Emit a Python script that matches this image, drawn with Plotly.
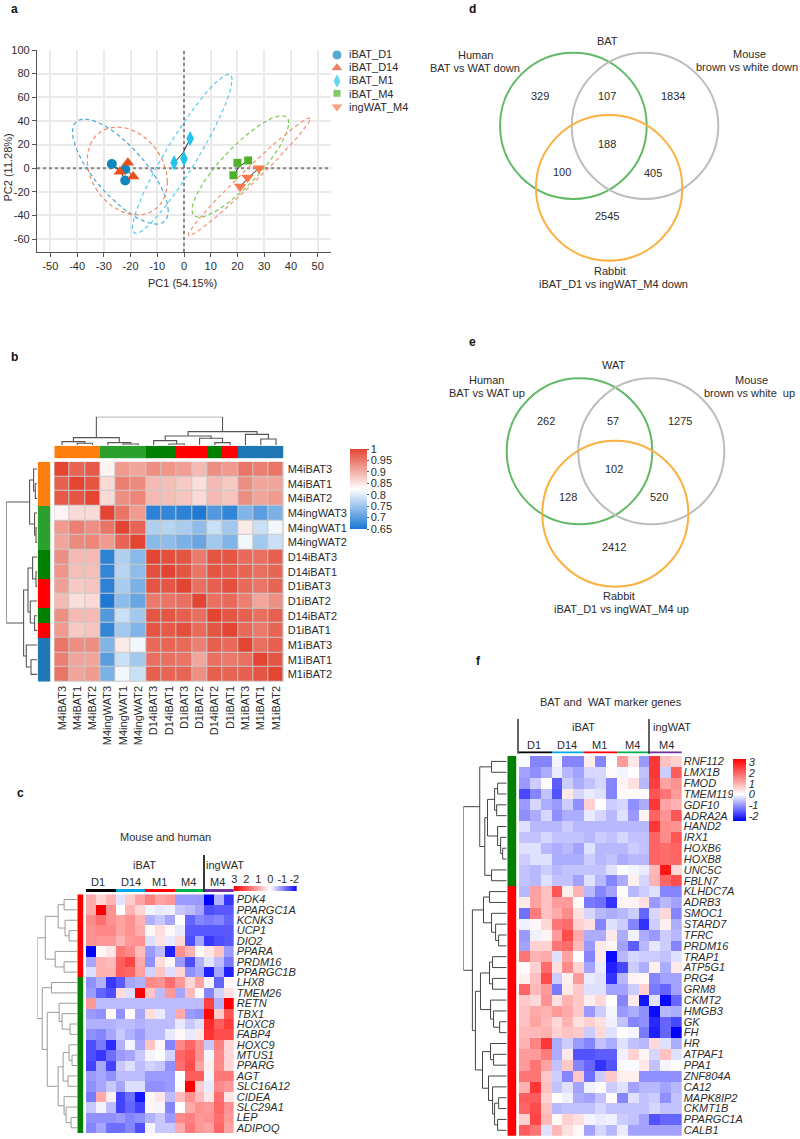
import numpy as np
import plotly.graph_objects as go

W, H = 800, 1139
FONT = "Liberation Sans"
INK = "#2b2b2b"

# ---------- panel a ----------
pca_groups = ["iBAT_D1", "iBAT_D14", "iBAT_M1", "iBAT_M4", "ingWAT_M4"]
pca_symbols = ["circle", "triangle-up", "diamond-tall", "square", "triangle-down"]
pca_sizes = [10, 11, 11, 8, 11]
pca_colors = ["#0f87c0", "#e8501c", "#22c5e8", "#4fb02c", "#fa7a50"]
pca_ell_colors = ["#4aa8d8", "#f08a60", "#55cdea", "#78c84e", "#fa9070"]
pc1 = [[-27, -22, -22], [-21, -24, -19], [2.3, -3.7, 0], [20, 24, 18.5], [28, 23.8, 21]]
pc2 = [[3.5, -1, -10.5], [4.5, -3, -7], [25, 4.5, 8], [4.5, 6.5, -6], [0, -8, -15.5]]
ell_cx = [-23.8, -21.2, -0.65, 21.1, 24.4]
ell_cy = [-2.9, -2.4, 12.1, 1.4, -7.4]
ell_ax = [17.9, 15.0, 18.65, 18.1, 22.8]
ell_ay = [44.5, 37.2, 67.3, 43.0, 49.8]
ell_corr = [-0.75, -0.25, 0.93, 0.856, 0.985]
pc1_ticks = [-50, -40, -30, -20, -10, 0, 10, 20, 30, 40, 50]
pc2_ticks = [-60, -40, -20, 0, 20, 40, 60, 80, 100]

# ---------- panel b ----------
samples = ["M4iBAT3", "M4iBAT1", "M4iBAT2", "M4ingWAT3", "M4ingWAT1", "M4ingWAT2", "D14iBAT3", "D14iBAT1",
           "D1iBAT3", "D1iBAT2", "D14iBAT2", "D1iBAT1", "M1iBAT3", "M1iBAT1", "M1iBAT2"]
corr_matrix = [
    [1.0, .97, .98, .835, .92, .91, .93, .925, .915, .89, .93, .92, .955, .945, .955],
    [.975, 1, .985, .86, .945, .935, .89, .885, .875, .855, .89, .875, .93, .91, .91],
    [.98, .985, 1, .86, .93, .94, .89, .885, .88, .86, .89, .88, .93, .91, .92],
    [.835, .86, .86, 1, .955, .92, .665, .67, .665, .655, .695, .67, .73, .70, .725],
    [.92, .945, .93, .955, 1, .97, .765, .77, .76, .74, .785, .755, .845, .785, .815],
    [.91, .935, .94, .92, .97, 1, .735, .74, .725, .71, .755, .73, .815, .755, .785],
    [.93, .89, .89, .665, .765, .735, 1, .99, .985, .95, .985, .985, .965, .96, .975],
    [.925, .885, .885, .67, .77, .74, .99, 1, .985, .955, .985, .98, .97, .96, .97],
    [.915, .875, .88, .665, .76, .725, .985, .985, 1, .96, .975, .99, .965, .955, .97],
    [.89, .855, .86, .655, .74, .71, .95, .955, .96, 1, .96, .965, .945, .91, .93],
    [.93, .89, .89, .695, .785, .755, .985, .985, .975, .96, 1, .985, .975, .96, .975],
    [.92, .875, .88, .67, .755, .73, .985, .98, .99, .965, .985, 1, .965, .95, .97],
    [.955, .93, .93, .73, .845, .815, .965, .97, .965, .945, .975, .965, 1, .96, .975],
    [.945, .91, .91, .70, .785, .755, .96, .96, .955, .91, .96, .95, .96, 1, .985],
    [.955, .91, .92, .725, .815, .785, .975, .97, .97, .93, .975, .97, .975, .985, 1],
]
sample_groups = [0, 0, 0, 1, 1, 1, 2, 2, 3, 3, 2, 3, 4, 4, 4]
sample_colors = ["#ff7f0e", "#2ca02c", "#008000", "#ff0000", "#1f77b4"]
sample_tree = (28.7, (7.7, (3.7, 0, (2.0, 1, 2)), (2.7, 3, (1.3, 4, 5))),
               (13.7, (9.3, (4.7, 6, (1.3, 7, 8)), (7.0, 9, (2.7, 10, 11))), (11.0, 12, (6.3, 13, 14))))

# ---------- panel c ----------
genes_c = ["PDK4", "PPARGC1A", "KCNK3", "UCP1", "DIO2", "PPARA", "PRDM16", "PPARGC1B", "LHX8", "TMEM26", "RETN",
           "TBX1", "HOXC8", "FABP4", "HOXC9", "MTUS1", "PPARG", "AGT", "SLC16A12", "CIDEA", "SLC29A1", "LEP", "ADIPOQ"]
expr_c = [
    [1.0, .5, .9, -.25, .6, 1.1, 1.5, 1.1, 1.2, -.9, -.9, -.9, -2.3, -.7, -1.8],
    [1.0, 3, 1.3, 0, .9, .5, -.1, -.2, -.15, -.5, -.6, -.8, -1.6, -1.5, -1.5],
    [1.4, 1.7, 1.3, 1.1, 1.3, .9, -.7, -.5, -.8, 0, -1.4, -1.1, -1.2, -1.1, -1.4],
    [1.3, 1.4, 1.4, 1.1, 1.3, 1.0, .1, .4, .1, -.2, -1.5, -1.5, -1.5, -1.5, -1.5],
    [1.3, 1.2, 1.2, .9, 1.2, 1.3, -.3, .35, -.2, .45, -1.6, -.8, -1.8, -1.6, -1.5],
    [-2.3, .1, .3, 1.6, 1.4, .8, -.9, -.6, -2.0, 1.3, .9, .05, .3, .7, -.9],
    [-.8, .9, .8, 1.9, 2.2, 1.0, -1, .4, .1, -.9, -1.6, -.7, -.25, -.6, -1.2],
    [-.3, .9, .9, 1.9, 1.8, 1.1, -.4, .7, -.3, .5, -1, -.8, -2, -.8, -2],
    [-1, -.7, -1.8, -1.5, -.8, -.7, 1.4, 1.3, 1.7, 1.2, .5, 1.1, -.1, -1.4, .1],
    [-.9, -1.4, -1.6, .4, -.3, 3, .7, -.6, 1.2, -.8, .8, .05, -1.1, -.4, .35],
    [1.2, -.6, -.6, -.6, -.6, -.6, -.6, -.6, -.6, -.6, -.6, -.6, 2.2, -.7, 3],
    [-.9, -1, .05, -1, .05, -.8, .4, -.2, -.6, 1, -.9, -1, 2.9, .6, 2],
    [-.7, -.7, -.7, -.6, -.6, -.7, -.6, -.6, -.6, -.2, -.5, -.3, 2.5, 1.9, 2.3],
    [-1, -1.1, -.8, -.5, -.7, -.9, -.6, -.6, -.2, .1, -.2, .3, 2.4, 2.1, 2.1],
    [-1.6, -1.2, -1.9, -.7, -.1, -.8, .7, .1, -1.1, 1.4, 1.8, 1.3, -.5, 1.5, .5],
    [-1.6, -1.8, -1.3, -.9, -.8, -.5, -.1, 0, -.4, 1.8, 2, 1.3, -.1, 1.4, .5],
    [-1.7, -.8, -1.7, -.5, -.3, -.6, -.4, -.5, -1, 1.7, 2.1, 1.1, .2, 1.4, .5],
    [-.9, -.8, -1, -.6, -.6, -.6, -.9, -.9, -.9, 0, 1.9, 1.9, -.1, 1.6, 1.6],
    [-1, -.8, -.5, -.8, -.3, -.3, -1, -1, -.9, .05, 3, .6, -.2, 1.4, 1.2],
    [-1.2, 1, .2, -1.7, -1.3, -2.1, .1, .3, -.6, .8, 1.3, .8, .3, 1.7, .3],
    [-.5, -.1, -.6, -1.7, -1.4, -1.7, .1, -.1, -1.1, 0, 1, 1.3, 1.2, 1.8, 1.3],
    [-1, -1, -1, -.9, -1.1, -1, -.7, -.5, -.9, 1.4, 1.5, 1.2, 1.3, 1.7, 1.2],
    [-1.1, -.8, -1.3, -1.3, -1.1, -1.6, -.1, -.5, -.5, 1, 1.6, 1.2, 1.1, 1.8, 1.1],
]
row_groups_c = [0] * 8 + [1] * 15
tree_c = (40, (32, (19, (13, 0, 1), (12, 2, (8, 3, 4))), (22, 5, (13, 6, 7))),
          (35, (25.7, 8, 9),
           (30, (18, 10, (15, 11, (7, 12, 13))),
            (19, (14, (8, 14, (5, 15, 16)), (9, 17, 18)), (13, 19, (11, 20, (6, 21, 22)))))))

# ---------- panel f ----------
genes_f = ["RNF112", "LMX1B", "FMOD", "TMEM119", "GDF10", "ADRA2A", "HAND2", "IRX1", "HOXB6", "HOXB8", "UNC5C", "FBLN7",
           "KLHDC7A", "ADRB3", "SMOC1", "STARD7", "TFRC", "PRDM16", "TRAP1", "ATP5G1", "PRG4", "GRM8", "CKMT2", "HMGB3",
           "GK", "FH", "HR", "ATPAF1", "PPA1", "ZNF804A", "CA12", "MAPK8IP2", "CKMT1B", "PPARGC1A", "CALB1"]
expr_f = [
    [-.05, -1.2, -1.2, -.1, -1.2, -1.2, .25, -1.2, 0, 1.3, .3, -1, 2.6, .8, .6],
    [-.9, -1.1, -.8, -.2, -.7, -.9, -.4, -.4, .05, -.1, 0, -.6, 2.6, -.5, 2.1],
    [-1, -.5, .05, -1.6, -.5, -.8, -.6, -.4, -1.2, .15, .4, -.7, 2.5, 1.2, 1.4],
    [-1.8, -1.2, -.6, -1.7, .3, -.4, -.2, -.3, -1.2, .05, .05, .05, 2.2, 1.8, 1.3],
    [-1, -.4, -.8, -1, -.5, -1.1, .6, 0, -.5, -.4, -1.1, -.8, 2.6, 1.2, 1],
    [-1.1, -.8, -.4, -1.1, -.8, -.8, -.2, -.4, -.7, -.3, -1, .15, 2, 1.4, 2.2],
    [-.3, -.7, -.7, -.7, -.5, -.7, -.7, -.7, -.7, -.7, -.7, -.7, 2.6, 1.5, 1.4],
    [-.6, -.6, -.4, -.6, -.6, -.6, -.7, -.5, -.6, -.4, -.6, -.6, 2, 1.5, 2.2],
    [-.3, -.3, -.7, -.8, -.7, -.9, -.3, -.7, -.7, -.7, -.5, -.6, 2, 1.9, 2],
    [-.5, -.3, -.3, -.8, -.8, -.8, -.5, -.7, -.6, -.8, -.7, -.7, 2, 1.9, 2],
    [-.6, -.7, -.5, -.7, -.6, -.6, -.6, -.6, -.3, 0, -.1, -.2, .9, 3, .5],
    [-.6, -.7, -.3, -.6, -.6, -.9, -.3, -.7, -1.2, -.8, .2, -.4, 1, 2, 2.3],
    [-.7, 1.2, .8, 2.2, .2, 1, -.7, -1.2, -.9, 0, -.7, -.5, -.3, -1.2, -1.2],
    [.3, 1.2, .8, 1.3, 1.3, .05, -1.3, -1.4, -2, .15, .15, .4, -1, -.7, -.9],
    [-1.4, 1.7, .8, 1.1, 1.5, .4, -.4, -.7, -.8, -.7, -.5, -1.5, -.4, .5, -1.2],
    [-.15, .1, .5, 1.8, 1.9, .6, .4, -1.2, -.3, -.5, -1.2, -2, -.5, .2, -.8],
    [-1, -.15, .15, 1.3, 2.3, 1.1, -.8, -.8, .3, -.8, -.15, -.8, -1, -.5, -.7],
    [-.9, .6, .6, 1.8, 1.9, .9, -1, .3, .1, -.9, -1.6, -.7, -.25, -.5, -1.2],
    [1.8, 1, 1.1, -.3, 1.2, .02, -1.2, .3, -2.4, -.7, -.4, -.5, -.5, -.6, -.3],
    [.05, .6, 1.9, .4, 1.5, .6, -.9, -.2, -2.2, -1.8, -.5, -.8, .2, -.8, .3],
    [.2, .8, 2.3, -.5, .2, 1.3, -.2, -.3, -2, -.7, .15, .1, -1.2, -.9, -.9],
    [2, .9, 1.3, -1.3, .3, .7, -.3, -.3, -.9, -.9, -.5, .6, -1.3, -1.5, -.9],
    [.7, .5, 1.4, .4, 1, .7, .25, .5, 0, -1.2, .3, -2.3, -.3, -2.4, -1.5],
    [.8, 1.1, 1, 1.3, 1.1, .7, -1, -.5, -.1, -1, -.8, -1.1, -2.4, -.7, -.8],
    [.8, 1.2, .9, .5, 1, .4, .6, .4, -.15, -.6, -1.2, -1.1, -2.1, -1.5, -1.8],
    [.9, .9, 1, .6, .8, .7, -.5, .5, -.3, 0, -.1, -1.3, -2.2, -1.5, -2.5],
    [1, 1.6, 2.6, -.8, -.5, -1, -1.2, -.6, -.8, -.3, -.6, -.7, .5, -.3, -.8],
    [1.3, 1.3, 1.7, -.8, .3, -1.7, -1.7, -1.6, -1.6, -.15, .6, .15, -.4, .8, -.3],
    [1.3, 1.8, 1.2, -.6, .7, -1.2, -1.5, -2, -1.7, -.05, -.05, .3, -.6, -.1, -.02],
    [1.8, 1.8, .7, -.5, -1.2, .7, -1.4, -.5, .7, .2, .2, -1.1, -1.1, -1.1, -1.1],
    [1, 2.6, .8, -.6, -.3, -.9, -.15, .05, -.5, -.3, -.9, -.7, -.7, -.9, -.7],
    [2.1, 2.1, .6, 0, -.15, -.8, -.9, -.6, .05, -1.2, -.3, -.6, -.5, -1.1, -.6],
    [2, 2.3, .8, -.7, -.6, -.6, -.6, -.4, -.6, -.6, -.6, -.6, -.4, -.6, -.6],
    [.6, 2.4, .9, .05, .6, .4, -.1, -.2, -.15, -.5, -.6, -.9, -1.7, -1.5, -1.5],
    [2.1, 1.8, -.3, .9, .4, .1, -.9, -.4, -.7, -.2, -.9, -.9, -.9, -.9, -.9],
]
row_groups_f = [1] * 12 + [0] * 23
tree_f = (43, (26.7, (15, 0, 1),
               (21.7, (19, (12, (9, 2, 3), (10, 4, 5)), (9, 6, (6, 7, (4, 8, 9)))), (15, 10, 11))),
          (34, (23, (17, 12, 13), (15, 14, (11, 15, (8, 16, 17)))),
           (31, (26, (17, (14, 18, 19), (14, 20, 21)), (16, 22, (13, 23, (7, 24, 25)))),
            (24, (16, 26, (13, 27, 28)), (18, 29, (14, 30, (12, (8, 31, 32), (9, 33, 34))))))))
column_groups = [0] * 3 + [1] * 3 + [2] * 3 + [3] * 3 + [4] * 3
column_colors = ["#000000", "#00a8e8", "#ff0000", "#00b050", "#7030a0"]
row_colors = ["#ff0000", "#008000"]
scale_ticks = [3, 2, 1, 0, -1, -2]

# ---------- venn ----------
venn_d = dict(top="BAT", hl="Human", hs="BAT vs WAT down", ml="Mouse", ms="brown vs white down",
              rl="Rabbit", rs="iBAT_D1 vs ingWAT_M4 down", n=["329", "107", "1834", "188", "100", "405", "2545"])
venn_e = dict(top="WAT", hl="Human", hs="BAT vs WAT up", ml="Mouse", ms="brown vs white  up",
              rl="Rabbit", rs="iBAT_D1 vs ingWAT_M4 up", n=["262", "57", "1275", "102", "128", "520", "2412"])

layout = dict(width=W, height=H, autosize=False, margin=dict(l=0, r=0, t=0, b=0, autoexpand=False),
              paper_bgcolor="white", plot_bgcolor="rgba(0,0,0,0)", showlegend=False,
              font=dict(family=FONT, size=11, color=INK), shapes=[])
fig = go.Figure()
axis_n = 0


def make_axes(x0, x1, y0, y1, xopts=None, yopts=None):
    global axis_n
    axis_n += 1
    s = "" if axis_n == 1 else str(axis_n)
    hidden = dict(showgrid=False, zeroline=False, showticklabels=False, ticks="", showline=False, fixedrange=True)
    xa = dict(hidden, domain=[x0 / W, x1 / W], anchor="y" + s)
    ya = dict(hidden, domain=[1 - y1 / H, 1 - y0 / H], anchor="x" + s)
    xa.update(xopts or {})
    ya.update(yopts or {})
    layout["xaxis" + s] = xa
    layout["yaxis" + s] = ya
    return "x" + s, "y" + s


def walk(node, segs):
    if not isinstance(node, tuple):
        return float(node), 0.0
    h, a, b = node
    pa, ha = walk(a, segs)
    pb, hb = walk(b, segs)
    segs.append(((pa, ha), (pa, h), (pb, h), (pb, hb)))
    return (pa + pb) / 2, h


def dendro(tree, n, x0, x1, y0, y1, orient, color, width=1.0):
    segs = []
    walk(tree, segs)
    hmax = tree[0]
    if orient == "top":
        xa, ya = make_axes(x0, x1, y0, y1, dict(range=[-.5, n - .5]), dict(range=[0, hmax]))
    else:
        xa, ya = make_axes(x0, x1, y0, y1, dict(range=[hmax, 0]), dict(range=[n - .5, -.5]))
    xs, ys = [], []
    for seg in segs:
        for p, hh in seg:
            xs.append(p if orient == "top" else hh)
            ys.append(hh if orient == "top" else p)
        xs.append(None)
        ys.append(None)
    fig.add_trace(go.Scatter(x=xs, y=ys, mode="lines", line=dict(color=color, width=width), xaxis=xa, yaxis=ya,
                             cliponaxis=False, hoverinfo="skip"))


def discrete_scale(colors):
    n = len(colors)
    out = []
    for i, c in enumerate(colors):
        out += [[i / n, c], [(i + 1) / n, c]]
    return out


def color_bar(x0, x1, y0, y1, groups, colors, vertical=False):
    z = [[g] for g in groups] if vertical else [list(groups)]
    n = len(groups)
    if vertical:
        xa, ya = make_axes(x0, x1, y0, y1, dict(range=[-.5, .5]), dict(range=[n - .5, -.5]))
    else:
        xa, ya = make_axes(x0, x1, y0, y1, dict(range=[-.5, n - .5]), dict(range=[-.5, .5]))
    fig.add_trace(go.Heatmap(z=z, zmin=-.5, zmax=len(colors) - .5, colorscale=discrete_scale(colors), showscale=False,
                             xaxis=xa, yaxis=ya, hoverinfo="skip"))


# ---------- panel a draw ----------
xa, ya = make_axes(37, 331, 50, 252,
                   dict(range=[-55, 55], tickvals=pc1_ticks, ticktext=[str(v) for v in pc1_ticks],
                        showticklabels=True, ticks="outside",
                        ticklen=4, tickcolor="#555", showline=True, linecolor="#555", linewidth=1.3, showgrid=True,
                        gridcolor="#e9e9e9", gridwidth=2, tickfont=dict(size=11)),
                   dict(range=[-71, 100], tickvals=pc2_ticks, ticktext=[str(v) for v in pc2_ticks],
                        showticklabels=True, ticks="outside",
                        ticklen=4, tickcolor="#555", showline=True, linecolor="#555", linewidth=1.3, showgrid=True,
                        gridcolor="#e9e9e9", gridwidth=2, tickfont=dict(size=11)))
fig.add_trace(go.Scatter(x=[-55, 55], y=[0, 0], mode="lines", line=dict(color="#888", width=2, dash="dot"),
                         xaxis=xa, yaxis=ya, hoverinfo="skip"))
fig.add_trace(go.Scatter(x=[0, 0], y=[-71, 100], mode="lines", line=dict(color="#888", width=2, dash="dot"),
                         xaxis=xa, yaxis=ya, hoverinfo="skip"))
t = np.linspace(0, 2 * np.pi, 120)
for i, c in enumerate(pca_ell_colors):
    phi = np.arccos(ell_corr[i])
    fig.add_trace(go.Scatter(x=ell_cx[i] + ell_ax[i] * np.cos(t), y=ell_cy[i] + ell_ay[i] * np.cos(t - phi),
                             mode="lines", line=dict(color=c, width=1.2, dash="4px,3px"), xaxis=xa, yaxis=ya,
                             hoverinfo="skip"))
for i in range(5):
    mx, my = np.mean(pc1[i]), np.mean(pc2[i])
    sx, sy = [], []
    for px, py in zip(pc1[i], pc2[i]):
        sx += [mx, px, None]
        sy += [my, py, None]
    fig.add_trace(go.Scatter(x=sx, y=sy, mode="lines", line=dict(color="#222", width=1), xaxis=xa, yaxis=ya,
                             hoverinfo="skip"))
for i, g in enumerate(pca_groups):
    fig.add_trace(go.Scatter(x=pc1[i], y=pc2[i], mode="markers", name=g,
                             marker=dict(symbol=pca_symbols[i], size=pca_sizes[i], color=pca_colors[i]),
                             xaxis=xa, yaxis=ya))

# ---------- panel b draw ----------
bx0, bx1, by0, by1 = 54.3, 283.7, 461.7, 681.7
BC = [[0, "#1976d2"], [0.5, "#ffffff"], [1, "#e34532"]]
xa, ya = make_axes(bx0, bx1, by0, by1,
                   dict(range=[-.5, 14.5], type="category", showticklabels=True, tickangle=-90, side="bottom",
                        tickmode="array", tickvals=samples, ticktext=samples,
                        tickfont=dict(size=11), ticklabelstandoff=1),
                   dict(range=[14.5, -.5], type="category", showticklabels=True, side="right",
                        tickmode="array", tickvals=samples, ticktext=samples,
                        tickfont=dict(size=11), ticklabelstandoff=3))
layout["shapes"].append(dict(type="rect", xref=xa + " domain", yref=ya + " domain", x0=0, x1=1, y0=0,
                             y1=1, fillcolor="#c9c9c9", line=dict(width=0), layer="below"))
fig.add_trace(go.Heatmap(z=corr_matrix, x=samples, y=samples, zmin=.65, zmax=1, colorscale=BC, xgap=1, ygap=1,
                         xaxis=xa, yaxis=ya,
                         colorbar=dict(x=350 / W, xanchor="left", xpad=0, ypad=0, y=1 - 449 / H, yanchor="top",
                                       len=79.5, lenmode="pixels", thickness=16.5, thicknessmode="pixels",
                                       outlinewidth=0, ticks="outside", ticklen=2, tickcolor="#555",
                                       tickvals=[1, .95, .9, .85, .8, .75, .7, .65],
                                       ticktext=["1", "0.95", "0.9", "0.85", "0.8", "0.75", "0.7", "0.65"],
                                       tickfont=dict(size=11))))
color_bar(bx0, bx1, 445.7, 458.3, sample_groups, sample_colors)
color_bar(37.7, 50.3, by0, by1, sample_groups, sample_colors, vertical=True)
dendro(sample_tree, 15, bx0, bx1, 416.7, 445.3, "top", "#555", 1.1)
dendro((31, sample_tree[1], sample_tree[2]), 15, 6.3, 37.3, by0, by1, "left", "#555", 1.1)

# ---------- panel c draw ----------
ZC = [[0, "#0000ff"], [2.3 / 5.3, "#ffffff"], [1, "#ff0000"]]
cx0, cx1, cy0, cy1 = 86, 233.7, 894.3, 1133
xa, ya = make_axes(cx0, cx1, cy0, cy1, dict(range=[-.5, 14.5]),
                   dict(range=[22.5, -.5], type="category", showticklabels=True, side="right",
                        tickmode="array", tickvals=genes_c, ticktext=genes_c,
                        tickfont=dict(size=11, style="italic"), ticklabelstandoff=2))
fig.add_trace(go.Heatmap(z=expr_c, y=genes_c, zmin=-2.3, zmax=3, colorscale=ZC, showscale=False, xaxis=xa, yaxis=ya))
color_bar(77.3, 83.7, cy0, cy1, row_groups_c, row_colors, vertical=True)
color_bar(cx0, cx1, 889, 892, column_groups, column_colors)
dendro(tree_c, 23, 37.3, 77, cy0, cy1, "left", "#9a9a9a", 1.0)
ramp_c = list(np.linspace(3.05, -2.2, 64))
xa, ya = make_axes(233.7, 296.7, 886, 891,
                   dict(range=[3.05, -2.2], showticklabels=True, side="top", tickvals=scale_ticks,
                        ticktext=[str(v) for v in scale_ticks], tickfont=dict(size=11), ticklabelstandoff=0),
                   dict(range=[-.5, .5]))
fig.add_trace(go.Heatmap(z=[ramp_c], x=ramp_c, zmin=-2.3, zmax=3, colorscale=ZC, showscale=False, xaxis=xa, yaxis=ya))

# ---------- panel f draw ----------
ZF = [[0, "#0000ff"], [2.5 / 5.8, "#ffffff"], [1, "#ff0000"]]
fx0, fx1, fy0, fy1 = 519, 681.7, 756, 1135.7
xa, ya = make_axes(fx0, fx1, fy0, fy1, dict(range=[-.5, 14.5]),
                   dict(range=[34.5, -.5], type="category", showticklabels=True, side="right",
                        tickmode="array", tickvals=genes_f, ticktext=genes_f,
                        tickfont=dict(size=11, style="italic"), ticklabelstandoff=1))
fig.add_trace(go.Heatmap(z=expr_f, y=genes_f, zmin=-2.5, zmax=3.3, colorscale=ZF, xaxis=xa, yaxis=ya,
                         colorbar=dict(x=732.7 / W, xanchor="left", xpad=0, ypad=0, y=1 - 759.3 / H, yanchor="top",
                                       len=61.7, lenmode="pixels", thickness=12.6, thicknessmode="pixels",
                                       outlinewidth=0, ticks="", tickvals=scale_ticks,
                                       ticktext=[str(v) for v in scale_ticks],
                                       tickfont=dict(size=11, style="italic"))))
color_bar(507.3, 516.7, fy0, fy1, row_groups_f, row_colors, vertical=True)
color_bar(fx0, fx1, 751.3, 753.7, column_groups, column_colors)
dendro(tree_f, 35, 463.3, 506.7, fy0, fy1, "left", "#444", 1.0)

# ---------- page overlay ----------
ox, oy = make_axes(0, W, 0, H, dict(range=[0, W]), dict(range=[H, 0]))
legend_y = [55, 68, 81, 93.3, 106.7]
text_y = [54, 66.7, 80, 94, 107]
fig.add_trace(go.Scatter(x=[337] * 5, y=legend_y, mode="markers",
                         marker=dict(symbol=pca_symbols, size=pca_sizes, color=pca_colors), xaxis=ox, yaxis=oy,
                         hoverinfo="skip"))
ann = []


def text(x, y, s, anchor="center", **kw):
    d = dict(x=x, y=y, xref=ox, yref=oy, text=s, showarrow=False, xanchor=anchor, yanchor="middle",
             font=dict(size=11, color=INK))
    d.update(kw)
    ann.append(d)


for g, yy in zip(pca_groups, text_y):
    text(346.5, yy, g, "left")
text(182.3, 283, "PC1 (54.15%)")
text(7.5, 168, "PC2 (11.28%)", textangle=-90)
text(165.7, 837, "Mouse and human")
text(144, 865, "iBAT")
text(225, 865, "ingWAT")
for lab, xx in zip(["D1", "D14", "M1", "M4", "M4"], [98, 131, 159, 188, 217]):
    text(xx, 882, lab)
text(611, 702, "BAT and  WAT marker genes")
text(583, 726.7, "iBAT")
text(672, 726.7, "ingWAT")
for lab, xx in zip(["D1", "D14", "M1", "M4", "M4"], [534, 566.7, 599, 632.7, 666.7]):
    text(xx, 745, lab)
for lab, xx, yy in [("a", 14, 9), ("b", 14, 357), ("c", 20, 793), ("d", 472, 9), ("e", 472, 342), ("f", 478, 661)]:
    text(xx, yy, "<b>%s</b>" % lab, font=dict(size=12, color="#111"))


def venn(v, pos, circles):
    text(*pos["top"], v["top"])
    text(*pos["hl"], v["hl"])
    text(*pos["hs"], v["hs"])
    text(*pos["ml"], v["ml"])
    text(*pos["ms"], v["ms"])
    text(*pos["rl"], v["rl"])
    text(*pos["rs"], v["rs"])
    for s, p in zip(v["n"], pos["n"]):
        text(*p, s)
    for (a, b, c, d), col in zip(circles, ["#62b966", "#bdbdbd", "#fbb03f"]):
        layout["shapes"].append(dict(type="circle", xref=ox, yref=oy, x0=a, x1=b, y0=c, y1=d,
                                     line=dict(color=col, width=2), layer="above"))


venn(venn_d,
     dict(top=(607.7, 40.7), hl=(475, 55), hs=(475, 67.7), ml=(749, 54), ms=(746.7, 67), rl=(610, 271), rs=(613.3, 284),
          n=[(540, 95.7), (607.3, 95.7), (673.3, 95.7), (607.3, 144), (562.3, 171.7), (652.7, 172.7), (607.3, 216)]),
     [(500, 646.7, 52.7, 199), (571.7, 718.3, 52.7, 199), (536, 682.3, 115, 260.7)])
venn(venn_e,
     dict(top=(613.3, 365), hl=(486.7, 380.3), hs=(486.7, 393.3), ml=(751, 380.3), ms=(749.3, 393.3), rl=(618.7, 596),
          rs=(621.7, 609.3),
          n=[(546, 420.7), (613.3, 420.7), (680, 420.7), (614, 469), (568.3, 497), (659, 497), (614.3, 547)]),
     [(506.7, 652.3, 378.3, 524.3), (578.3, 724.3, 378.3, 524.3), (542.3, 688.3, 440.7, 586.7)])

for (x_, y_0, y_1) in [(204, 855, 892), (518, 719, 753.7), (649, 719, 753.7)]:
    layout["shapes"].append(dict(type="line", xref=ox, yref=oy, x0=x_, x1=x_, y0=y_0, y1=y_1,
                                 line=dict(color="#222", width=1.4 if x_ != 204 else 1.8), layer="above"))

layout["annotations"] = ann
fig.update_layout(**layout)
fig.write_html("out.html", config={"displayModeBar": False},
               post_script="document.body.style.margin='0';document.documentElement.style.overflow='hidden';")
